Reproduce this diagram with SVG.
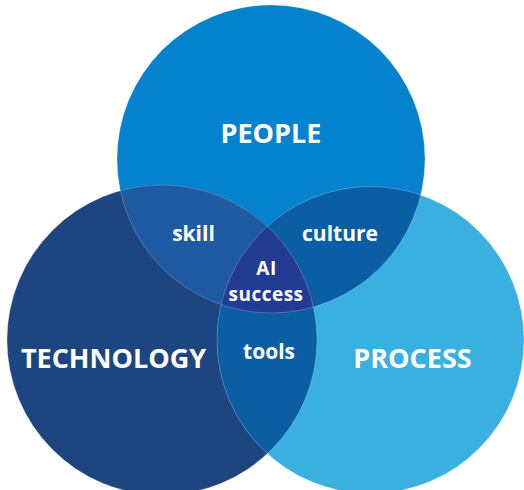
<svg xmlns="http://www.w3.org/2000/svg" width="524" height="490" viewBox="0 0 524 490">
  <style>
    .big { font-family: "Open Sans", "Liberation Sans", sans-serif; font-weight: 700; font-size: 27px; fill: #ffffff; text-anchor: middle; }
    .small { font-family: "Open Sans", "Liberation Sans", sans-serif; font-weight: 700; font-size: 21px; fill: #ffffff; text-anchor: middle; }
    .core { font-family: "Open Sans", "Liberation Sans", sans-serif; font-weight: 700; font-size: 19px; fill: #ffffff; text-anchor: middle; letter-spacing: 0.5px; }
    .edge { fill: none; stroke: #ffffff; stroke-opacity: 0.28; stroke-width: 0.8; }
  </style>
  <defs>
    <clipPath id="clipPeople"><circle cx="271" cy="159" r="154"/></clipPath>
    <clipPath id="clipTech"><circle cx="162" cy="340" r="155"/></clipPath>
    <clipPath id="clipProcess"><circle cx="370.5" cy="340" r="153.5"/></clipPath>
  </defs>
  <rect width="524" height="490" fill="#ffffff"/>

  <g id="people">
    <circle cx="271" cy="159" r="154" fill="#0582CE"/>
    <text class="big" x="271" y="143">PEOPLE</text>
  </g>
  <g id="technology">
    <circle cx="162" cy="340" r="155" fill="#1D4580"/>
    <text class="big" x="113.5" y="368">TECHNOLOGY</text>
  </g>
  <g id="process">
    <circle cx="370.5" cy="340" r="153.5" fill="#3AB0E0"/>
    <text class="big" x="412.5" y="368">PROCESS</text>
  </g>

  <g id="skill">
    <g clip-path="url(#clipPeople)">
      <circle cx="162" cy="340" r="155" fill="#1F5BA3"/>
    </g>
    <text class="small" x="193.5" y="241">skill</text>
  </g>
  <g id="culture">
    <g clip-path="url(#clipPeople)">
      <circle cx="370.5" cy="340" r="153.5" fill="#0B5EA4"/>
    </g>
    <text class="small" x="340" y="241">culture</text>
  </g>
  <g id="tools">
    <g clip-path="url(#clipTech)">
      <circle cx="370.5" cy="340" r="153.5" fill="#0B5EA4"/>
    </g>
    <text class="small" x="269" y="359">tools</text>
  </g>
  <g id="ai-success">
    <g clip-path="url(#clipPeople)">
      <g clip-path="url(#clipTech)">
        <circle cx="370.5" cy="340" r="153.5" fill="#233B92"/>
      </g>
    </g>
    <text class="core" x="266.5" y="275">AI</text>
    <text class="core" x="266" y="301">success</text>
  </g>

  <g id="outlines">
    <circle class="edge" cx="271" cy="159" r="154"/>
    <circle class="edge" cx="162" cy="340" r="155"/>
    <circle class="edge" cx="370.5" cy="340" r="153.5"/>
  </g>
</svg>
